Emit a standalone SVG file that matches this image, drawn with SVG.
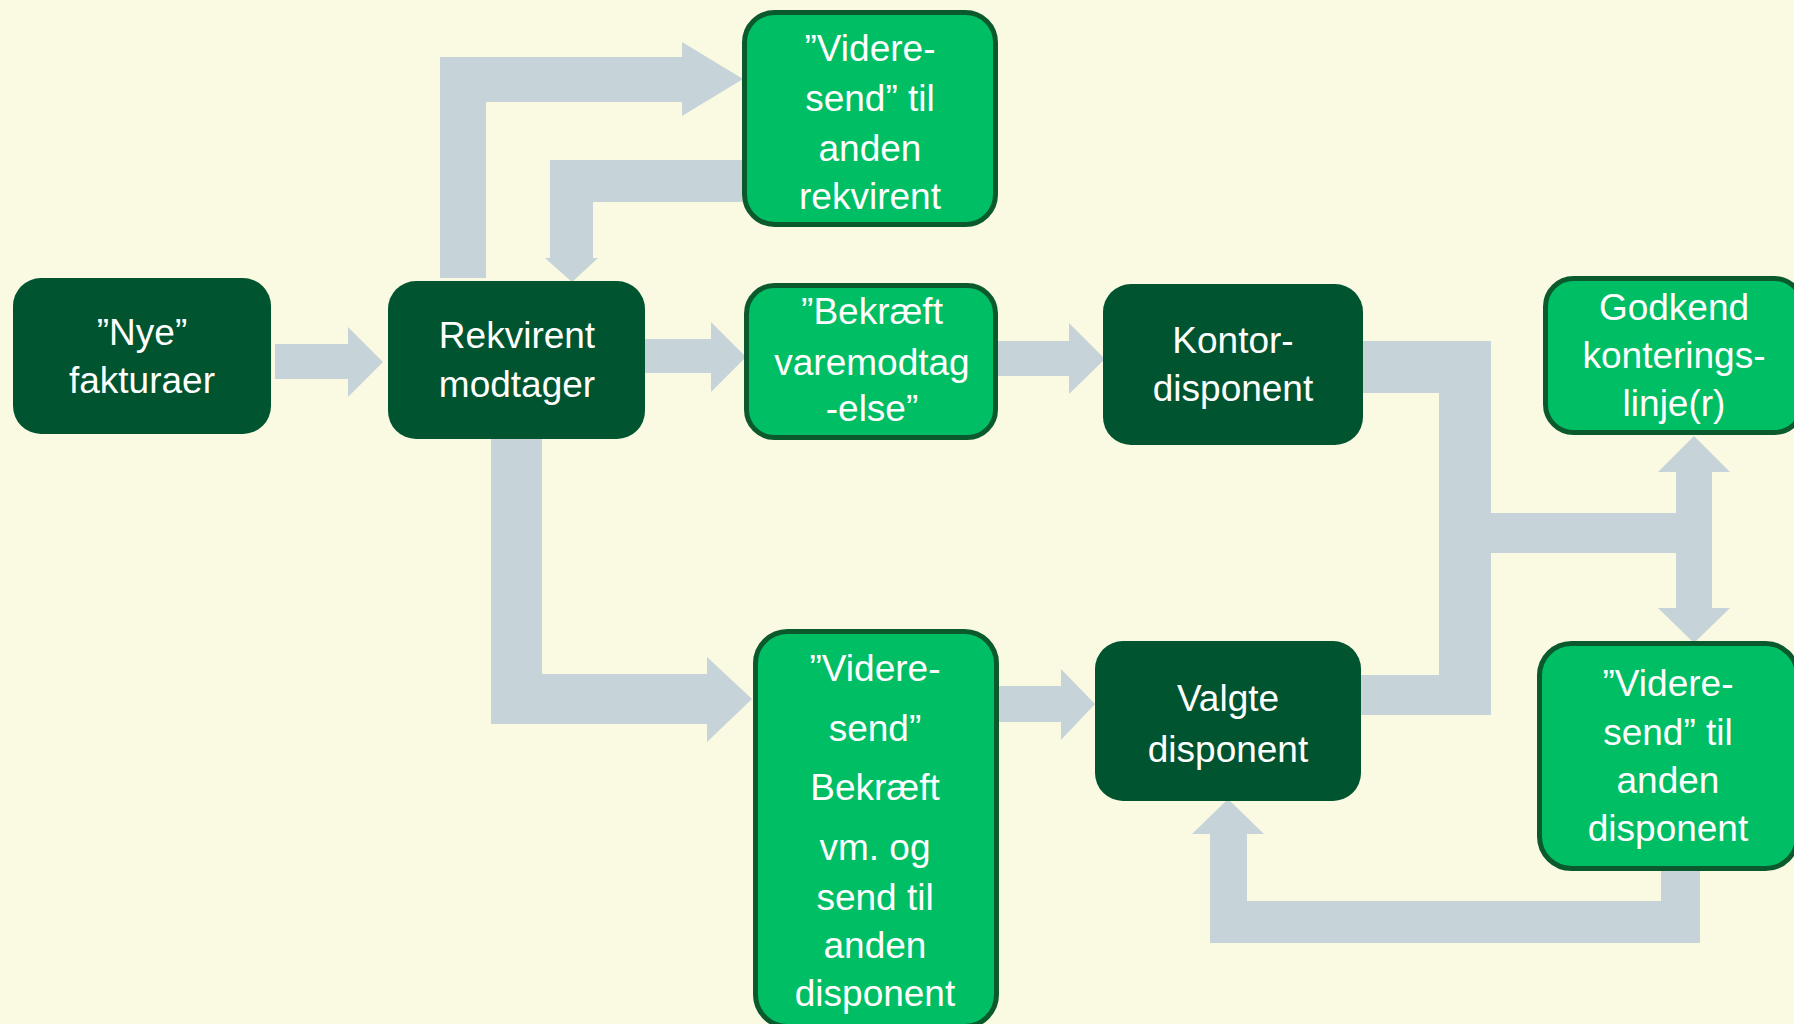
<svg xmlns="http://www.w3.org/2000/svg" width="1794" height="1024" viewBox="0 0 1794 1024">
<style>
.dark{fill:#005530}
.light{fill:#00BE64;stroke:#0B5A2E;stroke-width:5}
.t{fill:#FFFFFF;font-family:"Liberation Sans",Arial,sans-serif;font-size:37px;text-anchor:middle}
.arr{fill:#C6D3D9}
</style>
<rect width="1794" height="1024" fill="#FAF9E1"/>
<g id="connectors" class="arr">
<polygon points="275,344 348,344 348,327 383,362 348,397 348,379 275,379"/>
<polygon points="643,339 711,339 711,322 746,357 711,392 711,373 643,373"/>
<polygon points="998,341 1069,341 1069,323 1105,359 1069,394 1069,376 998,376"/>
<polygon points="440,278 440,57 682,57 682,42 743,79 682,116 682,102 486,102 486,278"/>
<polygon points="742,160 550,160 550,258 545,258 572,282 598,258 593,258 593,202 742,202"/>
<polygon points="491,439 542,439 542,674 707,674 707,657 752,699 707,742 707,724 491,724"/>
<polygon points="999,686 1061,686 1061,669 1095,704 1061,740 1061,722 999,722"/>
<rect x="1363" y="341" width="128" height="52"/>
<rect x="1439" y="341" width="52" height="374"/>
<rect x="1361" y="675" width="130" height="40"/>
<rect x="1491" y="513" width="187" height="40"/>
<polygon points="1676,472 1658,472 1694,436 1730,472 1712,472 1712,608 1730,608 1694,643 1658,608 1676,608"/>
<polygon points="1661,870 1700,870 1700,943 1210,943 1210,834 1192,834 1228,799 1264,834 1247,834 1247,901 1661,901"/>
</g>
<g id="nye">
<rect class="dark" x="13" y="278" width="258" height="156" rx="28"/>
<text class="t" x="142" y="345">”Nye”</text>
<text class="t" x="142" y="393">fakturaer</text>
</g>
<g id="rekvirent">
<rect class="dark" x="388" y="281" width="257" height="158" rx="28"/>
<text class="t" x="517" y="348">Rekvirent</text>
<text class="t" x="517" y="397">modtager</text>
</g>
<g id="videre-rekvirent">
<rect class="light" x="744.5" y="12.5" width="251" height="212" rx="30"/>
<text class="t" x="870" y="61">”Videre-</text>
<text class="t" x="870" y="111">send” til</text>
<text class="t" x="870" y="161">anden</text>
<text class="t" x="870" y="209">rekvirent</text>
</g>
<g id="bekraeft">
<rect class="light" x="746.5" y="285.5" width="249" height="152" rx="28"/>
<text class="t" x="872" y="324">”Bekræft</text>
<text class="t" x="872" y="375">varemodtag</text>
<text class="t" x="872" y="421">-else”</text>
</g>
<g id="kontor">
<rect class="dark" x="1103" y="284" width="260" height="161" rx="28"/>
<text class="t" x="1233" y="353">Kontor-</text>
<text class="t" x="1233" y="401">disponent</text>
</g>
<g id="godkend">
<rect class="light" x="1545.5" y="278.5" width="257" height="154" rx="28"/>
<text class="t" x="1674" y="320">Godkend</text>
<text class="t" x="1674" y="368">konterings-</text>
<text class="t" x="1674" y="416">linje(r)</text>
</g>
<g id="videre-bekraeft">
<rect class="light" x="755.5" y="631.5" width="241" height="395" rx="32"/>
<text class="t" x="875" y="681">”Videre-</text>
<text class="t" x="875" y="741">send”</text>
<text class="t" x="875" y="800">Bekræft</text>
<text class="t" x="875" y="860">vm. og</text>
<text class="t" x="875" y="910">send til</text>
<text class="t" x="875" y="958">anden</text>
<text class="t" x="875" y="1006">disponent</text>
</g>
<g id="valgte">
<rect class="dark" x="1095" y="641" width="266" height="160" rx="28"/>
<text class="t" x="1228" y="711">Valgte</text>
<text class="t" x="1228" y="762">disponent</text>
</g>
<g id="videre-disponent">
<rect class="light" x="1539.5" y="643.5" width="258" height="225" rx="32"/>
<text class="t" x="1668" y="696">”Videre-</text>
<text class="t" x="1668" y="745">send” til</text>
<text class="t" x="1668" y="793">anden</text>
<text class="t" x="1668" y="841">disponent</text>
</g>
</svg>
